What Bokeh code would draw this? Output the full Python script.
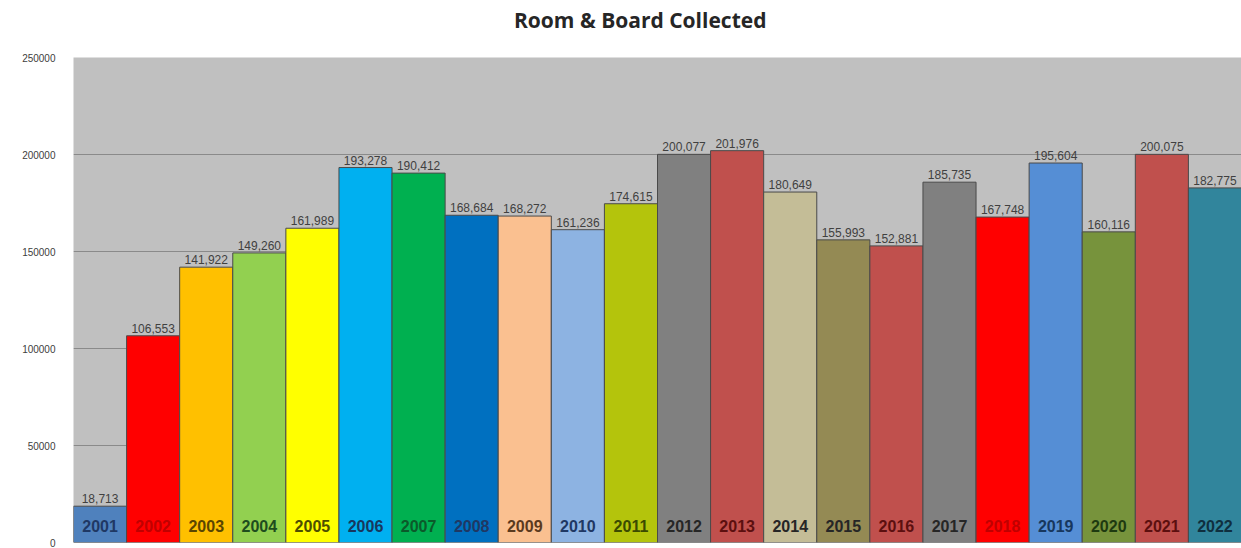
from bokeh.plotting import figure
from bokeh.layouts import column
from bokeh.models import ColumnDataSource, FixedTicker, NumeralTickFormatter, Range1d, Div
from bokeh.core.properties import value
from bokeh.embed import file_html
from bokeh.resources import INLINE

title_text = "Room &amp; Board Collected"
years = ["2001", "2002", "2003", "2004", "2005", "2006", "2007", "2008", "2009", "2010", "2011",
         "2012", "2013", "2014", "2015", "2016", "2017", "2018", "2019", "2020", "2021", "2022"]
amounts = [18713, 106553, 141922, 149260, 161989, 193278, 190412, 168684, 168272, 161236, 174615,
           200077, 201976, 180649, 155993, 152881, 185735, 167748, 195604, 160116, 200075, 182775]
bar_colors = ["#4f81bd", "#ff0000", "#ffc000", "#92d050", "#ffff00", "#00b0f0", "#00b050",
              "#0070c0", "#fac090", "#8db3e2", "#b4c40c", "#808080", "#c0504d", "#c4bd97",
              "#948a54", "#c0504d", "#808080", "#ff0000", "#558ed5", "#77933c", "#c0504d", "#31859c"]
year_colors = ["#1f3864", "#c00000", "#5a4600", "#1e4d1e", "#4d4d00", "#17375e", "#0b5a2a",
               "#1f3864", "#5a3a1e", "#1f3864", "#3b4a00", "#262626", "#5c0f0f", "#262626",
               "#262626", "#5c0f0f", "#262626", "#c00000", "#17375e", "#1e3a10", "#5c0f0f", "#0f2f3f"]
y_ticks = [0, 50000, 100000, 150000, 200000, 250000]

src = ColumnDataSource(dict(
    x=[i + 0.5 for i in range(len(years))],
    year=years,
    amount=amounts,
    label=[f"{v:,}" for v in amounts],
    color=bar_colors,
    ycolor=year_colors,
))

header = Div(text=title_text, width=1241, height=40, margin=(0, 0, 0, 0),
             styles={"font-family": "'Open Sans'", "font-size": "21px", "font-weight": "bold",
                     "color": "#262626", "line-height": "40px", "padding-left": "514px",
                     "white-space": "nowrap"})

p = figure(width=1241, height=508, output_backend="svg", toolbar_location=None,
           x_range=Range1d(0, len(years)), y_range=Range1d(0, 250000),
           min_border_left=73, min_border_right=0, min_border_top=17, min_border_bottom=6)

p.background_fill_color = "#c0c0c0"
p.border_fill_color = "white"
p.outline_line_color = None

p.vbar(x="x", top="amount", width=1.0, bottom=0, source=src,
       fill_color="color", line_color="#4a4a4a", line_width=1)

p.text(x="x", y="amount", text="label", source=src, text_align="center",
       text_baseline="bottom", y_offset=-3, text_font=value("Liberation Sans"),
       text_font_size="12px", text_color="#404040")

p.text(x="x", y=0, text="year", source=src, text_align="center",
       text_baseline="bottom", y_offset=-11, text_font=value("Liberation Sans"),
       text_font_size="16px", text_font_style="bold", text_color="ycolor")

p.xaxis.visible = False
p.xgrid.visible = False
p.ygrid.grid_line_color = "#8a8a8a"
p.ygrid.grid_line_width = 1
p.yaxis.ticker = FixedTicker(ticks=y_ticks)
p.yaxis.formatter = NumeralTickFormatter(format="0")
p.yaxis.axis_line_color = None
p.yaxis.major_tick_line_color = None
p.yaxis.minor_tick_line_color = None
p.yaxis.major_label_text_font = "Liberation Sans"
p.yaxis.major_label_text_font_size = "10px"
p.yaxis.major_label_text_color = "#404040"
p.yaxis.major_label_standoff = 12

layout = column(header, p, spacing=0)
open("out.html", "w").write(file_html(layout, INLINE))
